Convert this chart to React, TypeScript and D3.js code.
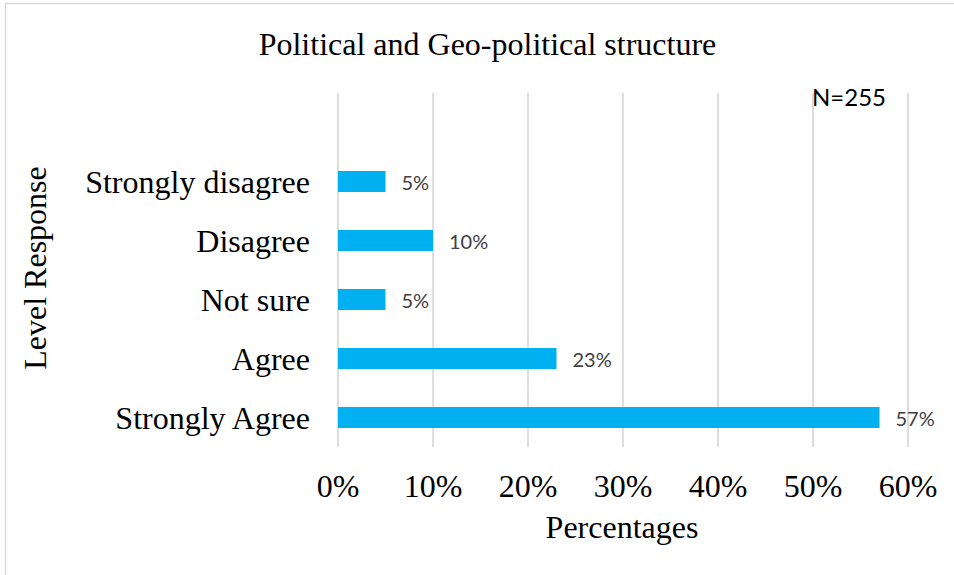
import React from "react";
import * as d3 from "d3";

const categories = ["Strongly disagree", "Disagree", "Not sure", "Agree", "Strongly Agree"];
const values = [5, 10, 5, 23, 57];
const tickValues = [0, 10, 20, 30, 40, 50, 60];
const title = "Political and Geo-political structure";
const xTitle = "Percentages";
const yTitle = "Level Response";
const note = "N=255";

const W = 954;
const H = 575;

export default function App() {
  const x = d3.scaleLinear().domain([0, 60]).range([338, 908]);
  // Excel leaves one empty category slot at the top
  const y = d3
    .scaleBand<string>()
    .domain(["", ...categories])
    .range([93, 447])
    .padding(0);
  const barH = 21;
  const serif = "'Liberation Serif', 'Times New Roman', serif";
  const sans = "Lato, 'Open Sans', sans-serif";

  return (
    <svg
      width={W}
      height={H}
      style={{ position: "absolute", left: 0, top: 0, background: "#fff" }}
    >
      <rect x={5.5} y={3.5} width={W + 20} height={H + 20} fill="#fff" stroke="#D9D9D9" strokeWidth={1.5} />
      <text x={487.5} y={55} textAnchor="middle" fontFamily={serif} fontSize={32} fill="#000">
        {title}
      </text>
      {tickValues.map((t) => (
        <line key={"g" + t} x1={x(t)} x2={x(t)} y1={93} y2={447} stroke="#D9D9D9" strokeWidth={1.75} />
      ))}
      {categories.map((c, i) => {
        const yc = (y(c) as number) + y.bandwidth() / 2;
        return (
          <g key={c}>
            <rect x={x(0)} y={yc - barH / 2} width={x(values[i]) - x(0)} height={barH} fill="#00B0F0" />
            <text x={x(values[i]) + 16} y={yc + 8} fontFamily={sans} fontSize={20} fill="#404040">
              {values[i] + "%"}
            </text>
            <text x={310} y={yc + 11} textAnchor="end" fontFamily={serif} fontSize={32} fill="#000">
              {c}
            </text>
          </g>
        );
      })}
      {tickValues.map((t) => (
        <text key={"t" + t} x={x(t)} y={497} textAnchor="middle" fontFamily={serif} fontSize={32} fill="#000">
          {t + "%"}
        </text>
      ))}
      <text x={622} y={538} textAnchor="middle" fontFamily={serif} fontSize={32} fill="#000">
        {xTitle}
      </text>
      <text
        transform={`translate(46, 268) rotate(-90)`}
        textAnchor="middle"
        fontFamily={serif}
        fontSize={32}
        fill="#000"
      >
        {yTitle}
      </text>
      <text x={812} y={106} fontFamily={sans} fontSize={24} fill="#000">
        {note}
      </text>
    </svg>
  );
}
